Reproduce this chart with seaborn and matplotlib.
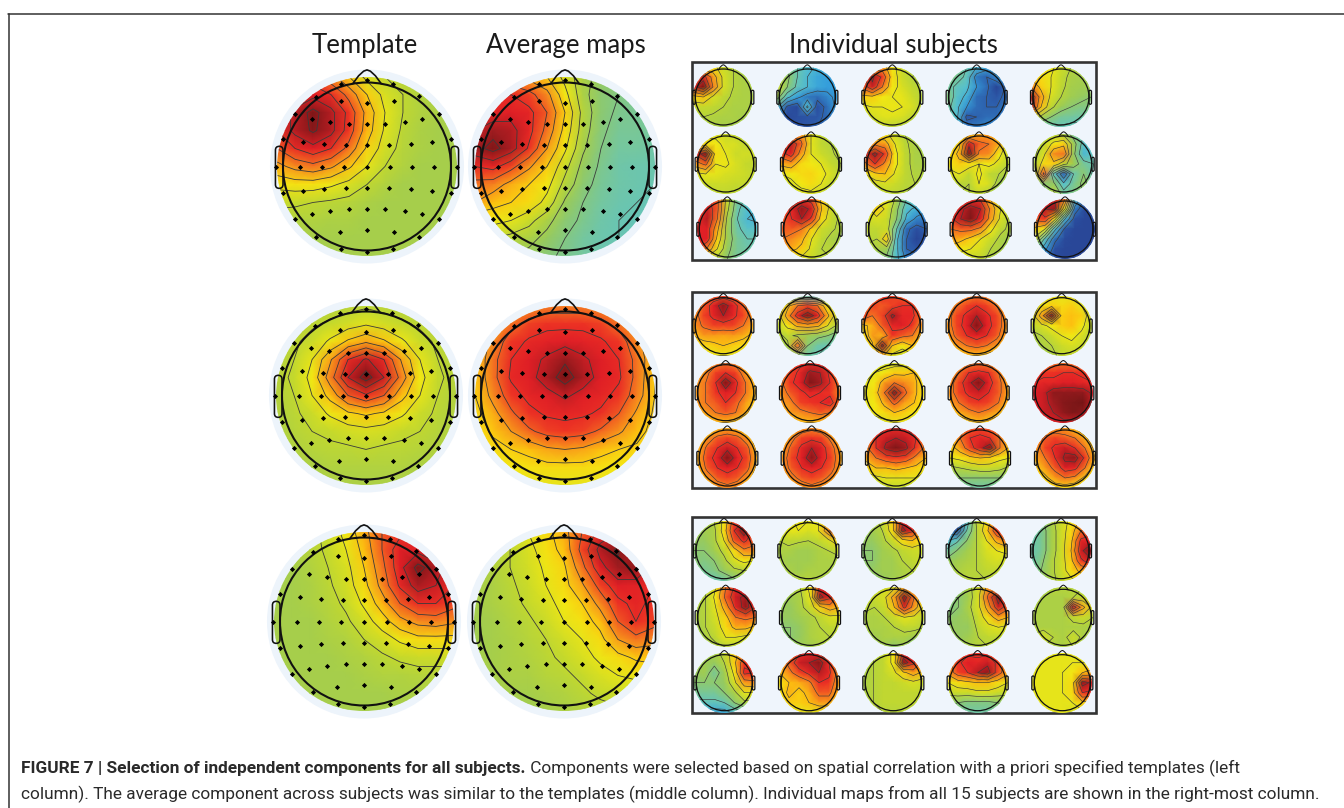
import numpy as np
import matplotlib
matplotlib.use("Agg")
import matplotlib.pyplot as plt
import matplotlib.patches as mp
from matplotlib.colors import LinearSegmentedColormap
import seaborn as sns

# ---------- text ----------
column_titles = ["Template", "Average maps", "Individual subjects"]
caption_bold = "FIGURE 7 | Selection of independent components for all subjects."
caption_rest = " Components were selected based on spatial correlation with a priori specified templates (left"
caption_line2 = "column). The average component across subjects was similar to the templates (middle column). Individual maps from all 15 subjects are shown in the right-most column."

# ---------- large maps (11 x 11, top row first, 0..100 on the colour scale) ----------
template_1 = [
[70,78,80,74,66,58,54,52,51,50,50],[78,84,88,84,76,66,58,54,51,50,50],[84,92,98,92,82,70,60,54,51,50,49],
[84,92,97,92,81,69,59,53,50,49,49],[78,84,88,84,76,65,57,52,50,49,49],[70,74,76,73,67,60,54,51,49,49,49],
[62,63,63,61,58,54,51,49,49,49,49],[55,55,54,53,52,50,49,49,49,49,49],[52,51,51,50,50,49,49,49,49,49,49],
[50,50,49,49,49,49,49,49,49,49,49],[49,49,49,49,49,49,49,49,49,49,49]]
average_1 = [
[62,70,72,70,66,58,50,46,44,42,41],[76,82,84,80,74,62,50,44,42,41,40],[84,86,88,86,78,66,52,44,41,40,40],
[90,94,92,86,76,64,51,43,40,40,39],[94,98,93,83,72,61,49,42,39,39,38],[84,86,80,73,66,56,46,41,38,37,37],
[76,75,70,66,62,52,44,40,38,37,36],[72,68,66,64,58,47,42,39,37,36,35],[62,62,60,56,50,44,41,38,36,35,35],
[56,54,52,50,46,42,39,37,36,35,35],[50,50,48,46,43,41,39,37,36,36,35]]
template_2 = [
[49,50,50,51,52,53,52,51,50,50,49],[50,51,53,55,57,59,57,55,53,51,50],[51,53,56,61,67,71,67,61,56,53,51],
[51,54,60,71,84,91,84,71,60,54,51],[52,55,62,75,90,99,90,75,62,55,52],[51,54,60,68,78,83,78,68,60,54,51],
[51,53,56,61,65,67,65,61,56,53,51],[50,52,54,55,57,58,57,55,54,52,50],[50,51,52,53,53,54,53,53,52,51,50],
[49,50,50,51,51,51,51,51,50,50,49],[49,49,49,50,50,50,50,50,49,49,49]]
average_2 = [
[62,66,70,73,75,75,75,73,70,66,62],[64,70,76,80,82,82,82,80,76,70,64],[66,74,81,85,87,88,87,85,81,74,66],
[67,76,84,88,91,95,91,88,84,76,67],[67,76,85,88,93,99,93,88,85,76,66],[66,74,81,86,88,91,88,86,82,75,66],
[64,70,77,82,85,86,85,83,78,71,65],[63,67,72,77,80,81,80,77,73,68,64],[62,64,66,68,71,72,71,68,66,65,63],
[60,61,62,63,64,64,64,63,62,62,60],[58,59,60,60,60,60,60,60,60,59,58]]
template_3 = [
[49,50,52,56,62,70,78,82,80,76,70],[49,50,52,55,60,68,78,88,88,84,78],[49,49,51,54,58,66,76,88,98,93,85],
[49,49,50,53,57,64,74,85,93,90,84],[49,49,50,52,55,61,69,78,84,84,80],[49,49,49,51,53,57,63,70,74,75,73],
[49,49,49,50,51,54,57,61,64,64,64],[49,49,49,49,50,51,53,55,56,56,56],[49,49,49,49,49,50,51,51,52,52,52],
[49,49,49,49,49,49,49,50,50,50,50],[49,49,49,49,49,49,49,49,49,49,49]]
average_3 = [
[50,52,55,60,64,70,78,86,90,84,76],[50,51,54,58,63,68,80,92,97,90,82],[50,51,54,57,61,65,76,88,94,96,88],
[49,50,53,56,60,64,71,80,88,87,84],[49,50,52,55,58,62,66,74,82,86,82],[48,49,51,53,56,60,63,68,78,84,80],
[48,49,50,52,54,57,60,64,72,76,74],[49,49,50,51,53,55,58,61,64,67,68],[49,49,50,50,52,53,55,58,60,61,62],
[49,49,49,49,50,51,53,55,56,57,57],[48,48,48,48,49,50,51,52,53,53,53]]

# ---------- individual subjects (7 x 7) ----------
a11=[[50,60,62,56,52,50,50],[75,88,72,58,52,50,50],[88,99,75,58,52,50,50],[65,68,58,54,51,50,50],[55,55,54,52,50,50,50],[52,52,51,50,50,49,50],[50,50,50,49,49,50,50]]
a12=[[40,42,36,30,27,25,24],[52,46,36,28,24,22,20],[58,44,34,28,24,22,22],[48,30,22,16,14,18,22],[28,10,6,30,8,14,22],[16,6,8,10,10,14,20],[14,10,10,10,12,16,20]]
a13=[[55,70,72,62,56,54,52],[78,94,82,64,56,52,50],[78,90,76,62,58,54,52],[66,66,62,60,60,56,52],[58,60,60,61,60,58,52],[54,57,59,59,58,54,51],[51,52,54,53,52,51,50]]
a14=[[44,42,36,28,24,26,28],[44,40,34,16,12,18,26],[40,34,30,20,14,4,14],[44,32,26,14,12,10,14],[40,30,20,14,12,12,16],[38,30,10,12,14,14,18],[36,26,16,16,18,20,22]]
a15=[[60,62,62,56,52,50,48],[66,64,60,55,50,49,48],[76,66,60,54,49,48,48],[92,72,58,52,48,46,44],[90,68,54,47,44,42,42],[62,50,44,40,39,38,38],[46,38,36,35,34,34,34]]
a21=[[55,58,58,56,54,52,50],[60,64,62,58,58,54,56],[86,98,64,60,56,57,56],[72,78,60,61,58,55,54],[58,60,60,58,57,56,54],[55,56,56,56,55,55,52],[52,53,54,54,53,52,50]]
a22=[[60,72,72,60,55,52,50],[78,92,78,60,54,52,50],[80,88,72,60,56,53,50],[70,72,64,62,60,55,52],[60,62,64,65,62,58,52],[55,58,62,64,60,55,52],[52,54,57,58,55,52,50]]
a23=[[55,62,62,56,52,50,50],[65,74,72,60,53,50,49],[84,95,82,62,54,50,49],[74,84,74,62,54,50,50],[60,66,68,59,54,51,51],[54,56,58,56,53,52,50],[51,52,54,53,52,50,50]]
a24=[[55,60,66,70,72,64,55],[58,66,90,78,76,70,55],[62,70,98,75,74,62,54],[62,66,64,60,62,58,52],[58,60,54,62,54,52,50],[54,53,52,60,58,48,46],[52,52,52,54,50,46,44]]
a25=[[46,50,52,50,40,36,34],[50,54,62,66,48,32,30],[50,58,74,76,46,28,34],[50,64,66,54,48,40,36],[48,78,34,12,36,44,34],[46,44,46,30,40,46,40],[44,42,54,40,42,44,42]]
a31=[[70,86,78,56,40,34,30],[78,90,78,54,38,30,28],[84,92,76,50,36,28,26],[86,88,70,48,38,32,32],[88,88,66,48,40,36,36],[84,74,60,46,40,38,38],[62,56,50,44,40,38,38]]
a32=[[70,78,84,80,66,56,50],[78,86,96,90,68,56,50],[78,84,92,82,64,55,50],[78,78,76,66,56,53,50],[76,74,70,60,54,50,48],[72,70,66,58,52,52,50],[62,60,58,55,53,52,50]]
a33=[[52,58,60,50,36,34,30],[58,66,58,46,30,26,22],[56,58,56,44,26,18,14],[54,54,56,36,14,8,12],[54,52,66,30,12,4,10],[50,50,48,30,12,10,12],[46,44,42,30,18,14,16]]
a34=[[72,80,84,82,68,56,50],[80,90,96,92,74,60,52],[82,92,98,88,72,58,50],[76,78,78,74,62,54,50],[72,70,66,60,56,50,48],[66,62,60,58,52,50,48],[58,56,54,54,50,48,46]]
a35=[[70,84,90,76,30,10,6],[82,92,96,60,16,6,6],[78,82,62,28,8,5,5],[66,60,30,10,5,5,5],[58,34,14,6,5,5,5],[38,22,8,5,5,5,5],[25,14,6,5,5,5,5]]
b11=[[66,72,78,80,78,72,66],[70,78,88,96,88,78,70],[72,80,86,92,86,80,72],[72,77,80,80,80,76,70],[68,72,72,71,72,70,66],[62,64,66,68,66,64,60],[58,60,60,60,60,60,58]]
b12=[[30,36,40,36,34,36,38],[52,66,76,80,76,62,50],[56,72,88,98,88,70,54],[54,62,70,72,70,60,50],[50,54,50,48,46,44,40],[46,50,76,44,38,36,36],[44,44,44,38,36,36,36]]
b13=[[70,76,84,80,78,74,70],[72,80,78,80,84,84,74],[82,76,80,94,86,86,76],[66,70,78,86,88,82,72],[62,72,70,82,78,76,66],[60,66,96,68,62,68,60],[54,58,70,58,56,58,54]]
b14=[[66,70,74,76,74,70,64],[70,76,80,84,80,76,68],[72,80,86,92,86,80,72],[72,80,88,98,88,80,72],[70,78,84,88,84,78,70],[66,72,76,78,76,72,66],[60,64,68,68,66,64,60]]
b15=[[52,56,60,60,60,56,52],[56,62,66,64,66,60,54],[56,72,98,66,68,66,54],[54,58,62,66,68,62,54],[50,52,56,60,62,58,52],[48,50,52,56,58,56,50],[48,48,50,54,54,52,48]]
b21=[[66,70,74,76,74,68,62],[70,74,80,84,80,72,66],[72,76,84,98,86,76,68],[72,76,82,88,84,76,68],[72,76,78,84,78,72,66],[68,72,76,78,76,70,62],[62,66,68,68,66,60,58]]
b22=[[72,78,82,84,84,80,72],[74,80,86,94,92,82,74],[74,82,88,98,94,84,76],[72,78,82,86,84,82,74],[72,74,80,82,84,88,76],[68,72,74,76,78,76,70],[62,66,68,68,68,64,62]]
b23=[[55,56,56,56,56,58,58],[58,60,62,66,66,68,60],[60,62,72,76,74,70,62],[60,64,76,97,78,70,62],[60,62,70,78,72,68,62],[58,62,64,68,66,62,60],[54,56,58,60,60,58,54]]
b24=[[64,70,74,76,74,70,62],[70,76,84,86,84,76,68],[72,80,90,98,88,78,70],[72,80,86,90,84,78,70],[70,76,80,82,80,76,68],[66,70,74,76,74,70,64],[60,64,66,68,66,64,60]]
b25=[[72,74,76,76,76,74,72],[80,82,82,84,84,82,80],[84,86,86,88,88,86,84],[88,90,96,96,96,96,90],[88,90,94,97,98,99,90],[88,90,92,96,98,96,88],[82,84,88,90,90,88,84]]
b31=[[58,62,68,70,68,62,58],[64,72,78,80,78,72,62],[68,78,84,90,84,78,66],[70,80,88,98,88,80,68],[68,78,84,88,84,78,66],[64,72,78,80,78,72,62],[60,66,72,74,72,66,60]]
b32=[[64,68,72,74,72,68,64],[68,74,80,82,80,74,68],[70,78,86,92,88,78,70],[72,80,88,97,88,80,70],[72,78,84,88,84,78,70],[68,74,78,80,78,74,68],[64,68,72,74,72,68,64]]
b33=[[72,80,84,84,84,80,72],[74,84,90,92,90,84,74],[74,84,94,98,94,82,74],[70,76,80,82,80,74,68],[64,68,68,70,68,66,62],[56,58,60,60,60,60,56],[52,54,54,54,54,52,52]]
b34=[[66,74,78,80,78,74,66],[68,76,84,86,84,76,68],[64,72,80,90,97,76,66],[60,62,66,68,66,62,60],[50,52,54,56,56,54,50],[46,44,44,44,44,44,44],[42,40,38,38,38,40,42]]
b35=[[62,68,72,72,68,62,58],[70,78,80,78,76,70,62],[72,80,86,90,84,76,66],[70,76,84,94,96,82,68],[66,72,78,88,86,76,64],[62,66,72,76,74,66,60],[58,62,64,64,62,58,56]]
c11=[[44,48,52,62,80,84,72],[46,48,50,64,84,98,80],[46,46,50,60,78,86,78],[44,44,48,54,64,74,74],[44,42,44,50,58,62,60],[42,40,42,46,50,52,52],[40,38,36,38,42,46,46]]
c12=[[54,58,62,60,60,70,76],[56,60,60,58,60,74,90],[52,54,53,52,54,58,66],[50,50,48,48,50,52,54],[50,48,48,48,50,50,50],[50,50,48,50,50,50,50],[50,50,52,52,50,50,50]]
c13=[[48,50,54,66,88,84,70],[46,48,52,64,95,86,70],[46,46,50,56,64,68,62],[44,44,48,50,54,56,56],[44,44,48,48,52,54,56],[46,46,48,48,50,52,54],[46,42,46,48,50,52,52]]
c14=[[10,8,30,54,62,78,84],[16,10,36,52,66,82,90],[28,34,44,52,60,70,76],[38,44,48,52,58,60,62],[46,48,50,52,56,58,56],[48,50,52,52,54,54,52],[50,50,52,52,52,52,50]]
c15=[[38,42,50,56,62,70,72],[38,40,48,56,64,76,80],[36,40,48,56,66,86,88],[36,40,48,56,68,90,99],[36,42,50,56,66,82,90],[38,44,50,56,64,70,72],[42,46,50,54,58,62,60]]
c21=[[48,52,60,76,86,84,72],[50,52,62,78,90,94,80],[50,52,60,72,86,96,84],[50,52,58,66,76,78,76],[48,52,56,64,70,70,66],[46,50,54,60,60,58,56],[44,48,50,52,52,50,50]]
c22=[[50,50,52,62,86,84,70],[48,48,50,60,95,86,72],[47,46,50,56,66,72,68],[46,46,48,50,54,58,58],[44,44,46,50,52,54,54],[44,44,46,50,52,52,52],[46,46,48,48,50,50,50]]
c23=[[52,54,56,58,72,66,58],[54,56,58,72,97,76,60],[54,52,56,68,86,72,58],[50,50,52,56,60,58,54],[50,50,50,52,54,54,52],[48,48,50,50,50,48,46],[48,48,48,44,48,40,44]]
c24=[[46,46,50,56,72,76,66],[44,44,48,58,78,96,80],[42,44,50,58,72,90,78],[44,46,48,56,64,72,68],[46,46,46,54,58,60,58],[48,46,48,52,54,54,52],[50,48,50,52,52,50,50]]
c25=[[50,50,52,52,52,52,50],[50,50,50,50,52,54,52],[50,50,50,50,90,70,56],[50,50,50,50,54,56,52],[50,50,50,50,50,50,50],[53,57,52,50,56,50,50],[52,52,50,50,52,50,50]]
c31=[[46,48,50,54,66,72,68],[46,48,46,52,66,82,80],[46,48,40,48,62,86,84],[44,44,44,46,58,72,74],[40,40,40,44,50,60,60],[34,34,34,36,44,50,50],[28,26,24,24,30,36,40]]
c32=[[68,74,82,86,84,76,68],[70,78,90,92,97,84,72],[68,74,80,86,92,86,72],[62,68,70,74,84,82,70],[62,70,66,70,78,78,68],[60,66,66,68,72,72,62],[56,60,60,60,60,60,56]]
c33=[[50,52,54,62,86,84,68],[50,52,54,62,97,86,72],[50,52,54,58,66,72,66],[50,52,54,54,56,58,56],[50,52,54,54,54,54,54],[50,52,54,54,54,54,52],[50,52,52,52,52,52,50]]
c34=[[66,76,82,82,82,76,64],[72,82,88,86,90,82,70],[70,80,84,92,96,80,70],[60,64,66,68,68,64,60],[54,56,56,58,58,56,54],[46,44,42,42,42,44,46],[42,40,38,38,38,40,42]]
c35=[[58,60,60,60,60,60,58],[60,60,60,60,60,60,60],[60,60,60,60,62,68,72],[60,60,60,60,64,96,90],[60,60,60,60,64,84,82],[60,60,60,60,60,66,66],[58,60,60,60,58,58,56]]

large_maps = [[template_1, average_1], [template_2, average_2], [template_3, average_3]]
small_maps = [a11,a12,a13,a14,a15,a21,a22,a23,a24,a25,a31,a32,a33,a34,a35,
              b11,b12,b13,b14,b15,b21,b22,b23,b24,b25,b31,b32,b33,b34,b35,
              c11,c12,c13,c14,c15,c21,c22,c23,c24,c25,c31,c32,c33,c34,c35]

# electrode sites, in units of the head radius (y grows downward)
elec_x = [0,-.31,.31,-.61,.62,-.31,0,.32,-.86,.86,-.65,-.44,-.22,0,.22,.45,.66,-1,1,-.76,-.51,-.25,0,.26,.52,.77,
          -1.08,1.07,-.8,-.53,-.27,0,.27,.54,.8,-1,1,-.76,-.51,-.25,0,.26,.52,.77,-.86,.86,-.65,-.44,-.22,0,.22,.45,.66,
          -.61,.62,-.32,0,.32,-.31,.31,0]
elec_y = [-1.03,-.98,-.98,-.83,-.84,-.78,-.76,-.78,-.62,-.62,-.56,-.53,-.51,-.51,-.51,-.53,-.56,-.33,-.33,-.29,-.27,-.26,-.26,-.26,-.27,-.29,
          0,0,0,0,0,0,0,0,0,.32,.32,.29,.27,.26,.26,.26,.27,.29,.62,.62,.56,.53,.51,.51,.51,.53,.56,
          .84,.84,.78,.76,.78,.98,.98,1.02]

# ---------- layout (pixels) ----------
W, H = 1344, 808
big_x = [[367, 565], [366, 565], [364, 564]]
big_y = [166.5, 395.5, 621.5]
big_r = 84
small_r = 28
blocks = [(61, 261), (291, 489), (516, 714)]
small_cx = [[115,367,622,875,1128],[122,378,630,882,1136],[127,380,635,887,1140],
            [115,368,622,875,1130],[122,375,628,881,1135],[127,380,633,885,1140],
            [117,370,622,875,1128],[122,375,628,880,1135],[118,372,625,878,1132]]
small_cy = [97,164,229,325.7,392.7,458,550.7,617.3,682.7]

sns.set_theme(style="white")
plt.rcParams["font.family"] = ["Lato", "DejaVu Sans"]

stops = [(0,"#263a8c"),(10,"#2c55a5"),(22,"#35a0dc"),(30,"#55c0d0"),(38,"#70c6a8"),(47,"#9ccb55"),
         (55,"#c5d92c"),(62,"#f3e813"),(68,"#fdc010"),(75,"#f58220"),(81,"#ee3524"),(88,"#e01f26"),
         (94,"#a01c20"),(100,"#6e1414")]
cmap = LinearSegmentedColormap.from_list("eeg", [(v/100, c) for v, c in stops], N=512)
big_levels = list(range(6, 100, 6))
small_levels = list(range(4, 100, 8))

fig = plt.figure(figsize=(W/100, H/100), dpi=100, facecolor="white")

def overlay(z):
    a = fig.add_axes([0, 0, 1, 1], zorder=z)
    a.patch.set_alpha(0)
    return a

bg = overlay(0)
top = overlay(5)

SPAN = 1.07

def draw_map(grid, cx, cy, R, clw, levels):
    grid = np.array(grid, dtype=float)
    n = grid.shape[0]
    r = R * SPAN
    ax = fig.add_axes([(cx-r)/W, 1-(cy+r)/H, 2*r/W, 2*r/H], zorder=2)
    sns.heatmap(grid, ax=ax, cmap=cmap, vmin=0, vmax=100, cbar=False,
                xticklabels=False, yticklabels=False, shading="gouraud")
    mesh = ax.collections[0]
    cs = ax.contour(np.arange(n), np.arange(n), grid, levels=levels, colors="#3a3a3a", linewidths=clw)
    ax.set_xlim(0, n-1)
    ax.set_ylim(n-1, 0)
    ax.axis("off")
    ax.patch.set_alpha(0)
    clip = mp.Circle(((n-1)/2, (n-1)/2), (n-1)/2, transform=ax.transData)
    mesh.set_clip_path(clip)
    cs.set_clip_path(clip)

def head(cx, cy, R, lw, ear_lw, color="#111111"):
    top.add_patch(mp.Circle((cx, cy), R, fc="none", ec=color, lw=lw))
    nx = np.array([-.17, -.10, -.04, 0, .04, .10, .17])
    ny = np.array([-.985, -1.08, -1.135, -1.15, -1.135, -1.08, -.985])
    top.plot(cx + R*nx, cy + R*ny, color=color, lw=lw*0.8, solid_capstyle="round")
    for sgn in (-1, 1):
        x0 = cx + sgn*R*1.045 - R*0.045
        top.add_patch(mp.FancyBboxPatch((x0, cy - R*.24), R*.09, R*.5,
                      boxstyle=f"round,pad=0,rounding_size={R*.045}", fc="none", ec=color, lw=ear_lw))

# big maps
for row, cols in enumerate(large_maps):
    for col, grid in enumerate(cols):
        cx, cy = big_x[row][col], big_y[row]
        bg.add_patch(mp.Circle((cx, cy), big_r*1.155, fc="#edf4fb", ec="none"))
        draw_map(grid, cx, cy, big_r, 0.6, big_levels)
        head(cx, cy, big_r, 1.5, 1.15)
        sns.scatterplot(x=cx + big_r*np.array(elec_x), y=cy + big_r*np.array(elec_y), ax=top,
                        marker="D", s=7, color="black", linewidth=0, legend=False, zorder=6)

# blocks
for y0, y1 in blocks:
    bg.add_patch(mp.Rectangle((692, y0+1), 404, y1-y0-2, fc="#eff5fc", ec="#333333", lw=1.9))

# small maps
for i, grid in enumerate(small_maps):
    rr, cc = divmod(i, 5)
    cx = 685 + small_cx[rr][cc]/3
    cy = small_cy[rr]
    draw_map(grid, cx, cy, small_r, 0.45, small_levels)
    head(cx, cy, small_r, 0.9, 0.9)

# page rules
bg.plot([8, W], [13.5, 13.5], color="#333333", lw=1.1)
bg.plot([8.5, 8.5], [13.5, H], color="#333333", lw=1.1)

for a in (bg, top):
    a.set_xlim(0, W)
    a.set_ylim(H, 0)
    a.axis("off")

# titles
tf = dict(family=["Lato", "DejaVu Sans"], fontsize=18.5, color="#1a1a1a", ha="center", va="baseline")
top.text(365, 53, column_titles[0], **tf)
top.text(566, 53, column_titles[1], **tf)
top.text(893, 53, column_titles[2], **tf)

# caption
cf = dict(family=["Roboto", "DejaVu Sans"], fontsize=12.4, color="#2a2a2a", va="baseline")
t1 = top.text(21, 773, caption_bold, fontweight="bold", **cf)
fig.canvas.draw()
bb = t1.get_window_extent()
top.text(21 + bb.width, 773, caption_rest, **cf)
top.text(21, 799, caption_line2, **cf)

fig.savefig("out.png", dpi=100, facecolor="white")
